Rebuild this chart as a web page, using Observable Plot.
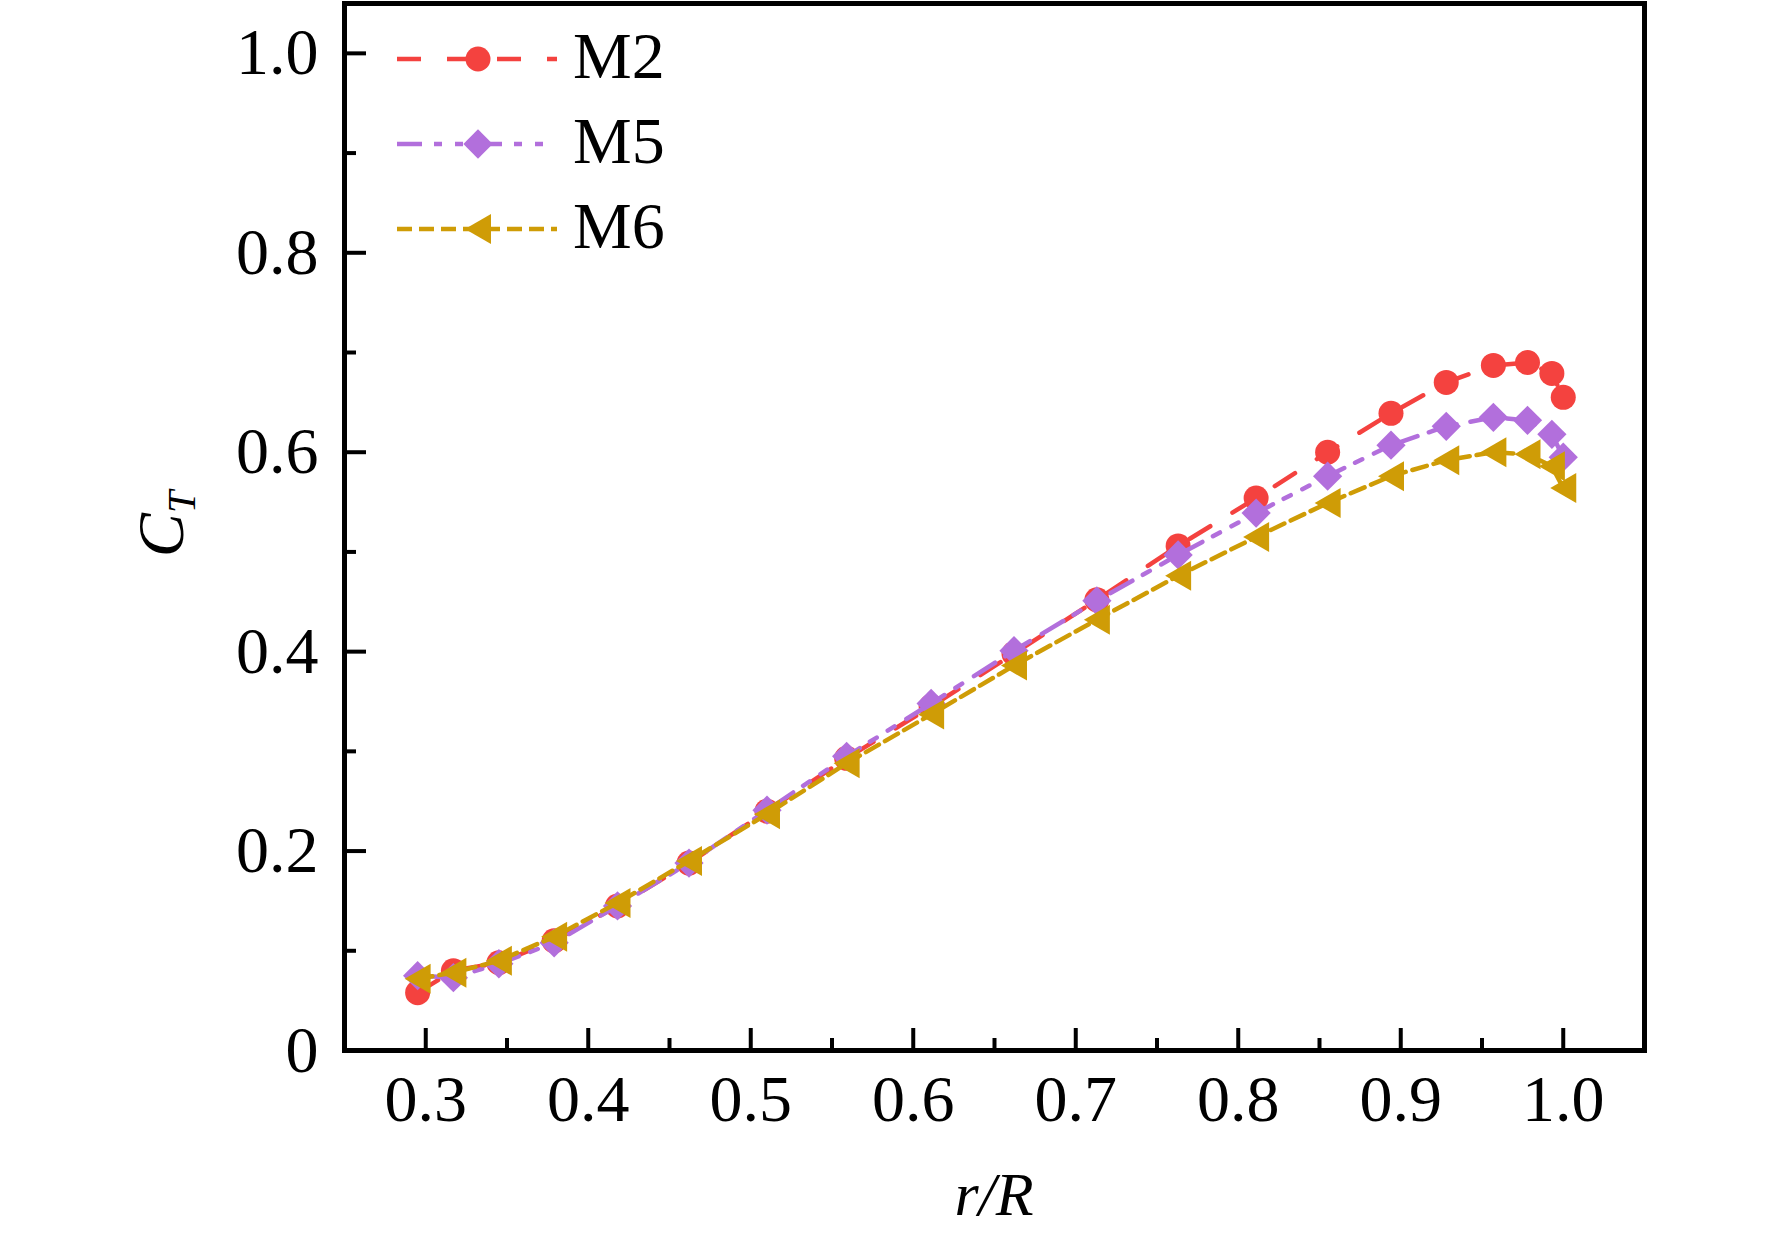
<!DOCTYPE html>
<html>
<head>
<meta charset="utf-8">
<script src="https://cdn.jsdelivr.net/npm/d3@7"></script>
<script src="https://cdn.jsdelivr.net/npm/@observablehq/plot@0.6"></script>
<style>
  html, body { margin: 0; padding: 0; background: #fff; }
  svg { display: block; }
</style>
</head>
<body>
<script>
// ---- data ----
const rR = [0.295, 0.317, 0.345, 0.379, 0.418, 0.462, 0.510, 0.559, 0.611, 0.662, 0.713, 0.763, 0.811, 0.855, 0.894, 0.928, 0.957, 0.978, 0.993, 1.000];
const M2 = [0.058, 0.080, 0.088, 0.110, 0.145, 0.188, 0.240, 0.293, 0.345, 0.398, 0.452, 0.506, 0.554, 0.600, 0.639, 0.670, 0.687, 0.690, 0.679, 0.655];
const M5 = [0.075, 0.073, 0.087, 0.108, 0.145, 0.188, 0.241, 0.295, 0.348, 0.401, 0.451, 0.497, 0.539, 0.576, 0.607, 0.626, 0.635, 0.632, 0.618, 0.595];
const M6 = [0.072, 0.078, 0.090, 0.114, 0.148, 0.190, 0.237, 0.288, 0.337, 0.386, 0.432, 0.476, 0.515, 0.549, 0.576, 0.592, 0.600, 0.598, 0.586, 0.564];
const seriesNames = ["M2", "M5", "M6"];
const seriesValues = [M2, M5, M6];
const xMajor = [0.3, 0.4, 0.5, 0.6, 0.7, 0.8, 0.9, 1.0];
const xMinor = [0.35, 0.45, 0.55, 0.65, 0.75, 0.85, 0.95];
const yMajor = [0, 0.2, 0.4, 0.6, 0.8, 1.0];
const yMinor = [0.1, 0.3, 0.5, 0.7, 0.9];

// ---- styles ----
const diamond = {draw(ctx, size) { const r = Math.sqrt(size / Math.PI) * 1.22; ctx.moveTo(0, -r); ctx.lineTo(r, 0); ctx.lineTo(0, r); ctx.lineTo(-r, 0); ctx.closePath(); }};
const triLeft = {draw(ctx, size) { const h = Math.sqrt(size / Math.PI) * 1.25; const w = h * 1.732; ctx.moveTo(-w / 2, 0); ctx.lineTo(w / 2, -h); ctx.lineTo(w / 2, h); ctx.closePath(); }};
const styles = {
  M2: {color: "#f4423f", dash: "24,26", symbol: d3.symbolCircle, r: 12.5},
  M5: {color: "#b26fdc", dash: "25,12,8,13,8,14", symbol: diamond, r: 12},
  M6: {color: "#cf9c06", dash: "15,7", symbol: triLeft, r: 12}
};

const rows = seriesNames.flatMap((s, k) => rR.map((x, i) => ({series: s, x, y: seriesValues[k][i]})));
const fmt = d => d === 0 ? "0" : d.toFixed(1);

const marks = [];
for (const s of seriesNames) {
  const st = styles[s];
  const data = rows.filter(d => d.series === s);
  marks.push(Plot.line(data, {x: "x", y: "y", stroke: st.color, strokeWidth: 4.5, strokeDasharray: st.dash}));
  marks.push(Plot.dot(data, {x: "x", y: "y", fill: st.color, stroke: "none", symbol: st.symbol, r: st.r}));
}

const plot = Plot.plot({
  width: 1772,
  height: 1236,
  marginLeft: 344,
  marginRight: 128,
  marginTop: 3,
  marginBottom: 186,
  x: {domain: [0.25, 1.05], label: null},
  y: {domain: [0, 1.05], label: null},
  style: {fontFamily: "'Liberation Serif', 'Times New Roman', serif", fontSize: "66px", color: "#000", background: "#fff"},
  marks: [
    ...marks,
    Plot.axisX({ticks: xMajor, tickSize: -22, strokeWidth: 4, text: null, label: null}),
    Plot.axisX({ticks: xMinor, tickSize: -12, strokeWidth: 4, text: null, label: null}),
    Plot.axisX({ticks: xMajor, tickSize: 0, tickPadding: 24, tickFormat: fmt, fontSize: 66, label: null}),
    Plot.axisY({ticks: yMajor, tickSize: -22, strokeWidth: 4, text: null, label: null}),
    Plot.axisY({ticks: yMinor, tickSize: -12, strokeWidth: 4, text: null, label: null}),
    Plot.axisY({ticks: yMajor, tickSize: 0, tickPadding: 26, tickFormat: fmt, fontSize: 66, label: null}),
    Plot.frame({stroke: "#000", strokeWidth: 5})
  ]
});
document.body.appendChild(plot);

// ---- axis titles & legend ----
const svg = d3.select(plot);
const font = "'Liberation Serif', 'Times New Roman', serif";
svg.append("text")
  .attr("x", 994).attr("y", 1215)
  .attr("text-anchor", "middle")
  .attr("font-family", font).attr("font-style", "italic").attr("font-size", 62)
  .attr("fill", "#000")
  .text("r/R");

const yl = svg.append("text")
  .attr("transform", "translate(183,524) rotate(-90)")
  .attr("text-anchor", "middle")
  .attr("font-family", font).attr("font-style", "italic").attr("font-size", 66)
  .attr("fill", "#000");
yl.append("tspan").text("C");
yl.append("tspan").attr("font-size", 40).attr("dy", 12).text("T");

const lg = svg.append("g");
seriesNames.forEach((s, i) => {
  const st = styles[s];
  const cy = 59 + 85 * i;
  lg.append("line")
    .attr("x1", 397).attr("x2", 557).attr("y1", cy).attr("y2", cy)
    .attr("stroke", st.color).attr("stroke-width", 4.5).attr("stroke-dasharray", st.dash);
  lg.append("path")
    .attr("transform", `translate(478,${cy})`)
    .attr("d", d3.symbol(st.symbol, Math.PI * st.r * st.r)())
    .attr("fill", st.color);
  lg.append("text")
    .attr("x", 573).attr("y", cy + 19)
    .attr("text-anchor", "start")
    .attr("font-family", font).attr("font-size", 66).attr("fill", "#000")
    .text(s);
});
</script>
</body>
</html>
